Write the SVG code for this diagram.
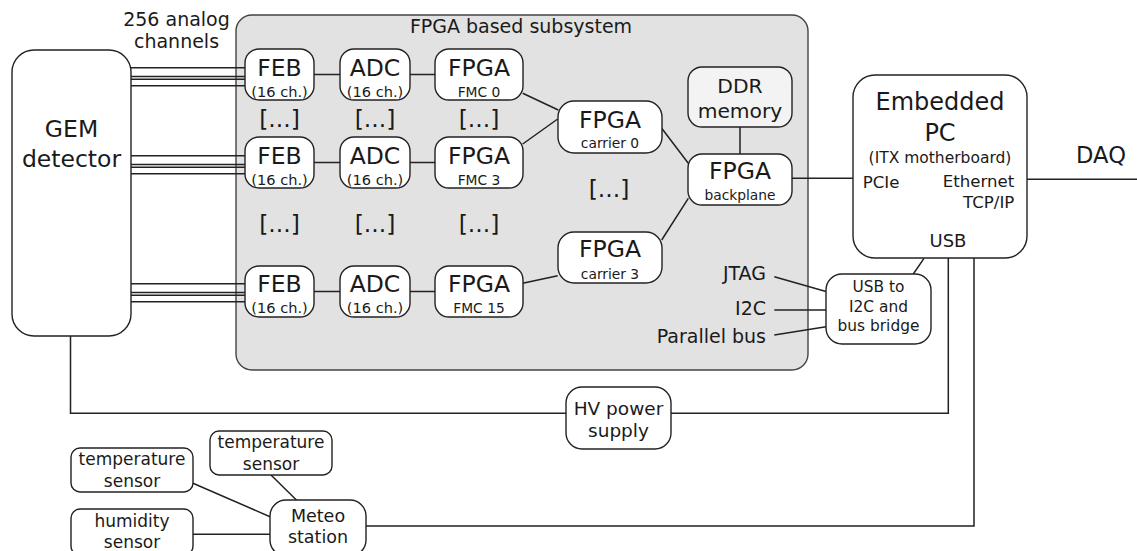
<svg xmlns="http://www.w3.org/2000/svg" width="1137" height="551" viewBox="0 0 1137 551">
<style>
text{font-family:"DejaVu Sans","Liberation Sans",sans-serif;fill:#1a1a1a;text-anchor:middle}
.box{fill:#fff;stroke:#222;stroke-width:1.4}
.ln{stroke:#222;stroke-width:1.5;fill:none}
.big{font-size:23.5px}
.sub{font-size:13.8px}
.ch{font-size:14.6px}
.md{font-size:19px}
.sm{font-size:17px}
.r{text-anchor:end}
</style>
<rect x="0" y="0" width="1137" height="551" fill="#fff"/>
<g id="subsystem">
<rect x="236" y="15" width="572" height="355" rx="16" fill="#e2e2e2" stroke="#444" stroke-width="1.4"/>
<text x="521" y="33" class="md">FPGA based subsystem</text>
<text x="279.5" y="127" class="big">[...]</text>
<text x="375" y="127" class="big">[...]</text>
<text x="479" y="127" class="big">[...]</text>
<text x="279.5" y="232" class="big">[...]</text>
<text x="375" y="232" class="big">[...]</text>
<text x="479" y="232" class="big">[...]</text>
<text x="609" y="197" class="big">[...]</text>
<text x="766" y="280" class="md r">JTAG</text>
<text x="766" y="315" class="md r">I2C</text>
<text x="766" y="343" class="md r">Parallel bus</text>
</g>
<g id="connectors" class="ln">
<path d="M131 67.7H245M131 76.5H245M131 79.2H245M131 85.7H245"/>
<path d="M131 155.7H245M131 164.5H245M131 167.2H245M131 173.7H245"/>
<path d="M131 283.7H245M131 292.5H245M131 295.2H245M131 301.7H245"/>
<path d="M314 74.5H340M410 74.5H435M314 162.5H340M410 162.5H435M314 291.5H340M410 291.5H435"/>
<path d="M522.7 93.3L558.3 110M522.7 144L557.7 119M522.7 283.3L557.7 275.7"/>
<path d="M661.7 128.3L688.3 163.3M661.7 240L688.3 198.3M740 127V154"/>
<path d="M792 178.3H853M1027 179.3H1137"/>
<path d="M774.3 276.7L826 291.5M774.3 310H826M774.3 335L826 326.7M913.3 274L924 258.3"/>
<path d="M70.5 336V413.3H566M671 413.3H948.3V258"/>
<path d="M974 258V526H366"/>
<path d="M193 483.3L270 516.7M271 475L296.9 500.5M193 534.3H270"/>
</g>
<g id="gem"><rect class="box" x="12" y="50" width="119" height="286" rx="22"/><text x="71.5" y="136.7" class="big">GEM</text><text x="71.5" y="166.7" class="big">detector</text></g>
<g id="analog"><text x="176.5" y="26" class="md">256 analog</text><text x="176.5" y="48.3" class="md">channels</text></g>
<g id="feb0"><rect class="box" x="245" y="49" width="69" height="51" rx="14"/><text x="279.5" y="76" class="big">FEB</text><text x="279.5" y="97" class="ch">(16 ch.)</text></g>
<g id="adc0"><rect class="box" x="340" y="49" width="70" height="51" rx="14"/><text x="375" y="76" class="big">ADC</text><text x="375" y="97" class="ch">(16 ch.)</text></g>
<g id="fmc0"><rect class="box" x="435" y="49" width="88" height="51" rx="14"/><text x="479" y="76" class="big">FPGA</text><text x="479" y="97" class="sub">FMC 0</text></g>
<g id="feb3"><rect class="box" x="245" y="137" width="69" height="51" rx="14"/><text x="279.5" y="164" class="big">FEB</text><text x="279.5" y="185" class="ch">(16 ch.)</text></g>
<g id="adc3"><rect class="box" x="340" y="137" width="70" height="51" rx="14"/><text x="375" y="164" class="big">ADC</text><text x="375" y="185" class="ch">(16 ch.)</text></g>
<g id="fmc3"><rect class="box" x="435" y="137" width="88" height="51" rx="14"/><text x="479" y="164" class="big">FPGA</text><text x="479" y="185" class="sub">FMC 3</text></g>
<g id="feb15"><rect class="box" x="245" y="266" width="69" height="51" rx="14"/><text x="279.5" y="292" class="big">FEB</text><text x="279.5" y="313" class="ch">(16 ch.)</text></g>
<g id="adc15"><rect class="box" x="340" y="266" width="70" height="51" rx="14"/><text x="375" y="292" class="big">ADC</text><text x="375" y="313" class="ch">(16 ch.)</text></g>
<g id="fmc15"><rect class="box" x="435" y="266" width="88" height="51" rx="14"/><text x="479" y="292" class="big">FPGA</text><text x="479" y="313" class="sub">FMC 15</text></g>
<g id="carrier0"><rect class="box" x="558" y="101" width="104" height="52" rx="16"/><text x="610" y="127.7" class="big">FPGA</text><text x="610" y="148.3" class="sub">carrier 0</text></g>
<g id="carrier3"><rect class="box" x="558" y="232" width="104" height="51" rx="16"/><text x="610" y="257.3" class="big">FPGA</text><text x="610" y="279" class="sub">carrier 3</text></g>
<g id="ddr"><rect x="688" y="67" width="104" height="60" rx="14" fill="#f3f3f3" stroke="#222" stroke-width="1.4"/><text x="740" y="92.7" style="font-size:20.3px">DDR</text><text x="740" y="118.3" style="font-size:20.3px">memory</text></g>
<g id="backplane"><rect class="box" x="688" y="154" width="104" height="51" rx="14"/><text x="740" y="179.3" class="big">FPGA</text><text x="740" y="200" class="sub">backplane</text></g>
<g id="pc"><rect class="box" x="853" y="75" width="174" height="183" rx="22"/>
<text x="940" y="110" style="font-size:24px">Embedded</text><text x="940" y="141" style="font-size:24px">PC</text>
<text x="940" y="163" style="font-size:15.5px">(ITX motherboard)</text>
<text x="862.7" y="188" style="font-size:16.6px;text-anchor:start">PCIe</text>
<text x="1014.3" y="186.7" class="r" style="font-size:16.6px">Ethernet</text>
<text x="1014.3" y="208" class="r" style="font-size:16.6px">TCP/IP</text>
<text x="948" y="247" style="font-size:18px">USB</text></g>
<g id="daq"><text x="1101" y="163.3" style="font-size:22.6px">DAQ</text></g>
<g id="bridge"><rect class="box" x="826" y="274" width="105" height="70" rx="16"/><text x="878.5" y="292.3" style="font-size:15.4px">USB to</text><text x="878.5" y="311.7" style="font-size:15.4px">I2C and</text><text x="878.5" y="331" style="font-size:15.4px">bus bridge</text></g>
<g id="hv"><rect class="box" x="566" y="387" width="105" height="62" rx="16"/><text x="618.5" y="415" style="font-size:18.5px">HV power</text><text x="618.5" y="436.7" style="font-size:18.5px">supply</text></g>
<g id="temp1"><rect class="box" x="71" y="448" width="122" height="44" rx="9"/><text x="132" y="465" class="sm">temperature</text><text x="132" y="486.7" class="sm">sensor</text></g>
<g id="temp2"><rect class="box" x="210" y="431" width="122" height="44" rx="9"/><text x="271" y="448.3" class="sm">temperature</text><text x="271" y="470" class="sm">sensor</text></g>
<g id="humidity"><rect class="box" x="71" y="509" width="122" height="46" rx="9"/><text x="132" y="526.7" class="sm">humidity</text><text x="132" y="548" class="sm">sensor</text></g>
<g id="meteo"><rect class="box" x="270" y="500" width="96" height="56" rx="16"/><text x="318" y="522" style="font-size:17.5px">Meteo</text><text x="318" y="542.5" style="font-size:17.5px">station</text></g>
</svg>
